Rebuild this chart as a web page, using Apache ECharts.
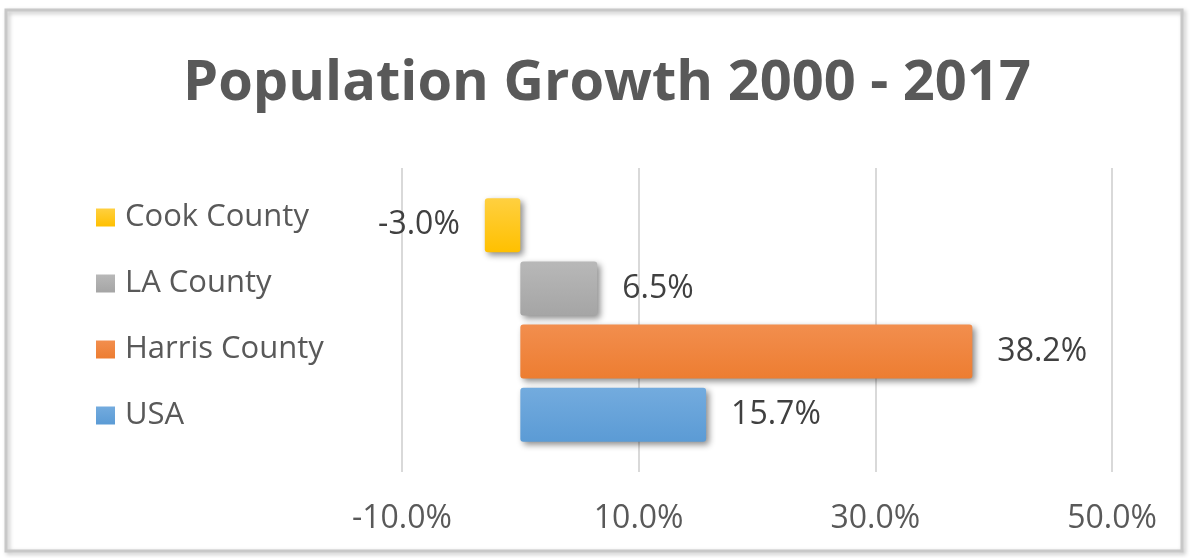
<!DOCTYPE html>
<html>
<head>
<meta charset="utf-8">
<script src="https://cdn.jsdelivr.net/npm/echarts@6/dist/echarts.min.js"></script>
<style>
html,body{margin:0;padding:0;background:#fff;}
#chart{width:1191px;height:558px;}
</style>
</head>
<body>
<div id="chart"></div>
<script>
// Data
const titleText = 'Population Growth 2000 - 2017';
const seriesNames = ['Cook County', 'LA County', 'Harris County', 'USA'];
const seriesValues = [-3.0, 6.5, 38.2, 15.7];
const seriesColors = ['#FFC000', '#A5A5A5', '#ED7D31', '#5B9BD5'];
const seriesColorsLight = ['#FFD040', '#B8B8B8', '#F28E4E', '#73ABDE'];
const xMin = -10, xMax = 50, xStep = 20;

const chart = echarts.init(document.getElementById('chart'));

const series = seriesNames.map((name, i) => ({
  name: name,
  type: 'bar',
  data: [seriesValues[i]],
  barWidth: 54,
  barGap: '17%',
  itemStyle: {
    color: new echarts.graphic.LinearGradient(0, 0, 0, 1, [
      {offset: 0, color: seriesColorsLight[i]},
      {offset: 1, color: seriesColors[i]}
    ]),
    borderRadius: 3,
    shadowColor: 'rgba(0,0,0,0.45)',
    shadowBlur: 6,
    shadowOffsetX: 3,
    shadowOffsetY: 3
  },
  label: {
    show: true,
    position: seriesValues[i] < 0 ? 'left' : 'right',
    distance: 25,
    formatter: p => p.value.toFixed(1) + '%',
    fontFamily: 'Open Sans',
    fontSize: 32,
    color: '#404040'
  }
}));

chart.setOption({
  backgroundColor: '#fff',
  animation: false,
  title: {
    text: titleText,
    left: 183,
    top: 56,
    padding: 0,
    textStyle: {
      fontFamily: 'Open Sans',
      fontWeight: 'bold',
      fontSize: 56,
      color: '#595959'
    }
  },
  legend: {
    data: seriesNames,
    orient: 'vertical',
    left: 96,
    top: 201,
    padding: 0,
    icon: 'rect',
    itemWidth: 19,
    itemHeight: 18,
    itemGap: 33,
    textStyle: {
      fontFamily: 'Open Sans',
      fontSize: 31,
      lineHeight: 30,
      color: '#595959',
      padding: [3, 0, 0, 5]
    }
  },
  grid: {left: 402, right: 79, top: 168, bottom: 86},
  xAxis: {
    type: 'value',
    min: xMin,
    max: xMax,
    interval: xStep,
    axisLine: {show: false},
    axisTick: {show: false},
    splitLine: {lineStyle: {color: '#d9d9d9', width: 2}},
    axisLabel: {
      formatter: v => v.toFixed(1) + '%',
      fontFamily: 'Open Sans',
      fontSize: 32,
      color: '#595959',
      margin: 31
    }
  },
  yAxis: {
    type: 'category',
    data: [''],
    axisLine: {show: false},
    axisTick: {show: false},
    axisLabel: {show: false},
    splitLine: {show: false}
  },
  graphic: [{
    type: 'rect',
    shape: {x: 6, y: 10, width: 1176, height: 541},
    style: {fill: 'none', stroke: '#c8c8c8', lineWidth: 3,
            shadowColor: 'rgba(0,0,0,0.25)', shadowBlur: 4, shadowOffsetX: 2, shadowOffsetY: 2},
    silent: true,
    z: -1
  }],
  series: series
});
</script>
</body>
</html>
